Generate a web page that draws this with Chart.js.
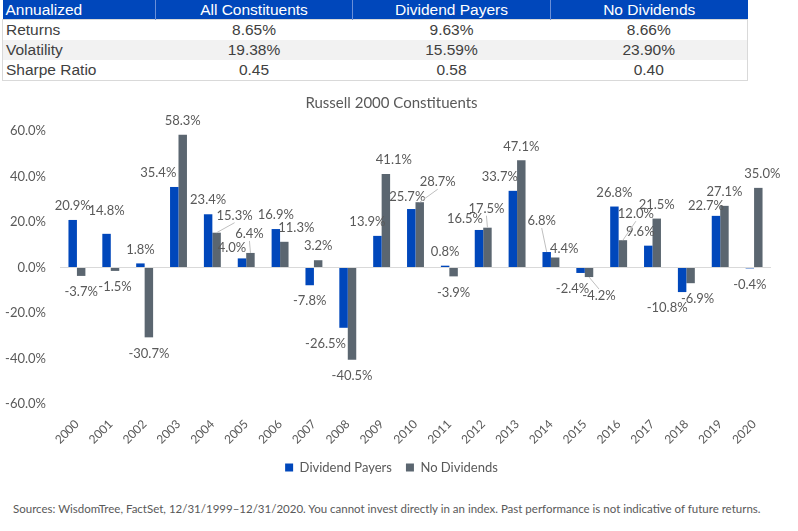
<!DOCTYPE html>
<html>
<head>
<meta charset="utf-8">
<script src="https://cdn.jsdelivr.net/npm/chart.js@4.4.0/dist/chart.umd.min.js"></script>
<style>
  body { margin: 0; width: 798px; height: 531px; background: #fff; position: relative; overflow: hidden; }
  table.stats { position: absolute; left: 2px; top: 0; border-collapse: collapse; table-layout: fixed;
    font-family: "Liberation Sans", Arial, sans-serif; font-size: 15.5px; color: #404040; }
  table.stats th { background: #0047bb; color: #fff; font-weight: normal; height: 19px; line-height: 19px; padding: 0;
    border-left: 1px solid #6a8fd8; }
  table.stats th:first-child { border-left: none; text-align: left; padding-left: 3px; }
  table.stats td { height: 20px; line-height: 20px; padding: 0; text-align: center; }
  table.stats td:first-child { text-align: left; padding-left: 3px; }
  table.stats tr.alt td { background: #f2f2f2; }
  table.stats tbody { border: 1px solid #d9d9d9; }
  #wrap { position: absolute; left: 0; top: 85px; width: 798px; height: 400px; }
  #foot { position: absolute; left: 13px; top: 502px; font-family: Lato, sans-serif; font-size: 11.5px; color: #595959; white-space: nowrap; }
</style>
</head>
<body>
<table class="stats">
  <colgroup><col style="width:153px"><col style="width:197px"><col style="width:198px"><col style="width:197px"></colgroup>
  <thead><tr><th>Annualized</th><th>All Constituents</th><th>Dividend Payers</th><th>No Dividends</th></tr></thead>
  <tbody id="statsBody"></tbody>
</table>
<div id="wrap"><canvas id="returnsChart"></canvas></div>
<div id="foot">Sources: WisdomTree, FactSet, 12/31/1999–12/31/2020. You cannot invest directly in an index. Past performance is not indicative of future returns.</div>
<script>
// summary table
const statRows = ['Returns', 'Volatility', 'Sharpe Ratio'];
const allConstituents = ['8.65%', '19.38%', '0.45'];
const dividendStats = ['9.63%', '15.59%', '0.58'];
const noDividendStats = ['8.66%', '23.90%', '0.40'];

// yearly returns (%)
const years = ['2000', '2001', '2002', '2003', '2004', '2005', '2006', '2007', '2008', '2009', '2010',
  '2011', '2012', '2013', '2014', '2015', '2016', '2017', '2018', '2019', '2020'];
const dividendPayers = [20.9, 14.8, 1.8, 35.4, 23.4, 4.0, 16.9, -7.8, -26.5, 13.9, 25.7,
  0.8, 16.5, 33.7, 6.8, -2.4, 26.8, 9.6, -10.8, 22.7, -0.4];
const noDividends = [-3.7, -1.5, -30.7, 58.3, 15.3, 6.4, 11.3, 3.2, -40.5, 41.1, 28.7,
  -3.9, 17.5, 47.1, 4.4, -4.2, 12.0, 21.5, -6.9, 27.1, 35.0];

const BLUE = '#0047bb';
const GRAY = '#5b6670';
const TEXT = '#595959';

// Fill table
statRows.forEach((name, i) => {
  const tr = document.createElement('tr');
  if (i === 1) tr.className = 'alt';
  [name, allConstituents[i], dividendStats[i], noDividendStats[i]].forEach(v => {
    const td = document.createElement('td');
    td.textContent = v;
    tr.appendChild(td);
  });
  document.getElementById('statsBody').appendChild(tr);
});

// Label nudges (dx, dy) keyed by dataset index then year, to mimic the hand-placed labels
const labelShift = {
  0: { '2001': [0, -9], '2003': [-16, 0], '2005': [-10, 3], '2008': [-18, 0], '2009': [-10, 0],
       '2010': [-4, 2], '2012': [-14, 3], '2013': [-13, 0], '2014': [-5, -17], '2015': [-8, 0],
       '2017': [-8, 0], '2018': [-15, 0], '2019': [-10, 4] },
  1: { '2004': [18, -3], '2005': [-1, -5], '2006': [12, 0], '2009': [8, 0], '2010': [18, -6],
       '2012': [-1, -5], '2014': [9, 5], '2015': [10, 3], '2016': [13, -12], '2018': [7, 0], '2020': [4, 0] }
};
const leaders = { 0: ['2014'], 1: ['2004', '2005', '2010', '2012', '2015', '2016'] };

const valueLabels = {
  id: 'valueLabels',
  afterDatasetsDraw(chart) {
    const ctx = chart.ctx;
    ctx.save();
    ctx.font = '13px Lato, sans-serif';
    ctx.textAlign = 'center';
    ctx.textBaseline = 'middle';
    chart.data.datasets.forEach((ds, di) => {
      chart.getDatasetMeta(di).data.forEach((bar, i) => {
        const v = ds.data[i];
        const yr = years[i];
        const shift = (labelShift[di] && labelShift[di][yr]) || [0, 0];
        const lx = bar.x + shift[0];
        const ly = (v >= 0 ? bar.y - 14 : bar.y + 16) + shift[1];
        if (leaders[di].includes(yr)) {
          ctx.strokeStyle = '#bfbfbf';
          ctx.lineWidth = 1;
          ctx.beginPath();
          ctx.moveTo(bar.x, bar.y);
          ctx.lineTo(lx, v >= 0 ? ly + 7 : ly - 7);
          ctx.stroke();
        }
        ctx.fillStyle = TEXT;
        ctx.fillText(v.toFixed(1) + '%', lx, ly);
      });
    });
    ctx.restore();
  }
};

// tick labels are clipped to their scale box; widen those boxes after layout
const unclipTicks = {
  id: 'unclipTicks',
  afterLayout(chart) {
    chart.scales.y.left = 0;
    chart.scales.x.bottom = chart.height;
  }
};

new Chart(document.getElementById('returnsChart').getContext('2d'), {
  type: 'bar',
  data: {
    labels: years,
    datasets: [
      { label: 'Dividend Payers', data: dividendPayers, backgroundColor: BLUE },
      { label: 'No Dividends', data: noDividends, backgroundColor: GRAY }
    ]
  },
  options: {
    responsive: true,
    maintainAspectRatio: false,
    animation: false,
    categoryPercentage: 0.5,
    barPercentage: 1.0,
    layout: { padding: { left: 12, right: 27, top: 0, bottom: 1 } },
    plugins: {
      title: {
        display: true,
        text: 'Russell 2000 Constituents',
        color: TEXT,
        font: { family: 'Lato, sans-serif', size: 15, weight: 'normal' },
        padding: { top: 9, bottom: 19 }
      },
      legend: {
        position: 'bottom',
        labels: {
          color: TEXT,
          font: { family: 'Lato, sans-serif', size: 13 },
          boxWidth: 8,
          boxHeight: 8,
          padding: 14
        }
      },
      tooltip: { enabled: false }
    },
    scales: {
      x: {
        grid: { display: false },
        border: { display: false },
        ticks: {
          color: TEXT,
          font: { family: 'Lato, sans-serif', size: 12 },
          minRotation: 45,
          maxRotation: 45,
          padding: 5
        },
        afterFit(scale) { scale.height = 43; }
      },
      y: {
        min: -60,
        max: 60,
        border: { display: false },
        grid: {
          drawTicks: false,
          color: c => (c.tick && c.tick.value === 0 ? '#d9d9d9' : 'rgba(0,0,0,0)')
        },
        ticks: {
          stepSize: 20,
          padding: 14,
          color: TEXT,
          font: { family: 'Lato, sans-serif', size: 13 },
          callback: v => v.toFixed(1) + '%'
        },
        afterFit(scale) { scale.width = 48; }
      }
    }
  },
  plugins: [valueLabels, unclipTicks]
});
</script>
</body>
</html>
